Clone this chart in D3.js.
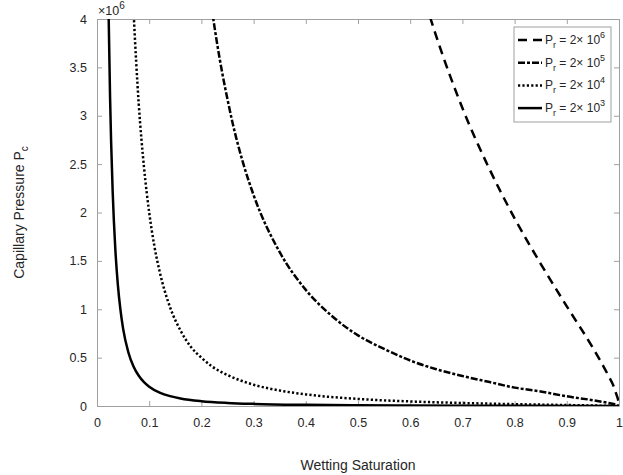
<!DOCTYPE html>
<html>
<head>
<meta charset="utf-8">
<script src="https://d3js.org/d3.v7.min.js"></script>
<style>
  body { margin: 0; background: #fff; }
  text { font-family: "Liberation Sans", Arial, sans-serif; fill: #262626; }
</style>
</head>
<body>
<div id="chart"></div>
<script>
// curves, pressure in units of 1e6
var sat2e6 = [0.638, 0.65, 0.7, 0.75, 0.8, 0.85, 0.9, 0.95, 0.98, 0.99, 0.995, 0.999, 1];
var pc2e6 = [4.02, 3.82, 3.08, 2.47, 1.94, 1.47, 1.03, 0.60, 0.31, 0.20, 0.12, 0.04, 0];

var sat2e5 = [0.22, 0.23, 0.24, 0.25, 0.26, 0.28, 0.3, 0.35, 0.4, 0.45, 0.5, 0.55, 0.6, 0.65, 0.7, 0.75, 0.8, 0.85, 0.9, 0.95, 0.98, 0.99, 1];
var pc2e5 = [4.10, 3.75, 3.44, 3.17, 2.92, 2.51, 2.18, 1.59, 1.20, 0.93, 0.73, 0.59, 0.47, 0.38, 0.31, 0.25, 0.19, 0.15, 0.10, 0.06, 0.031, 0.020, 0];

var sat2e4 = [0.07, 0.075, 0.08, 0.09, 0.1, 0.11, 0.12, 0.14, 0.16, 0.18, 0.2, 0.22, 0.25, 0.3, 0.35, 0.4, 0.5, 0.6, 0.7, 0.8, 0.9, 1];
var pc2e4 = [4.08, 3.56, 3.12, 2.47, 2.00, 1.65, 1.39, 1.02, 0.78, 0.61, 0.50, 0.41, 0.32, 0.22, 0.16, 0.12, 0.073, 0.047, 0.031, 0.019, 0.010, 0];

var sat2e3 = [0.022, 0.025, 0.027, 0.03, 0.035, 0.04, 0.045, 0.05, 0.06, 0.07, 0.08, 0.09, 0.1, 0.12, 0.14, 0.16, 0.2, 0.25, 0.3, 0.4, 0.5, 0.6, 0.8, 1];
var pc2e3 = [4.13, 3.20, 2.74, 2.22, 1.63, 1.25, 0.99, 0.80, 0.556, 0.408, 0.312, 0.247, 0.200, 0.139, 0.102, 0.078, 0.050, 0.032, 0.022, 0.012, 0.0073, 0.0047, 0.0019, 0];

var xTicks = [0, 0.1, 0.2, 0.3, 0.4, 0.5, 0.6, 0.7, 0.8, 0.9, 1];
var yTicks = [0, 0.5, 1, 1.5, 2, 2.5, 3, 3.5, 4];
var legendExp = ['6', '5', '4', '3'];

var W = 623, H = 475;
var mLeft = 97, mTop = 19, w = 522, h = 387;

var svg = d3.select('#chart').append('svg')
    .attr('width', W)
    .attr('height', H);

var x = d3.scaleLinear().domain([0, 1]).range([0, w]);
var y = d3.scaleLinear().domain([0, 4]).range([h, 0]);

var g = svg.append('g').attr('transform', 'translate(' + mLeft + ',' + mTop + ')');

g.append('clipPath').attr('id', 'clip')
    .append('rect').attr('width', w).attr('height', h);

var series = [
    { s: sat2e6, p: pc2e6, dash: '9,6' },
    { s: sat2e5, p: pc2e5, dash: '7,2,3,2' },
    { s: sat2e4, p: pc2e4, dash: '2.2,2.2' },
    { s: sat2e3, p: pc2e3, dash: null }
];

var line = d3.line()
    .x(function (d) { return x(d[0]); })
    .y(function (d) { return y(d[1]); })
    .curve(d3.curveMonotoneX);

var fmt = function (d) { return String(+d.toFixed(1)); };

// axes, ticks pointing inward, mirrored on top/right
function styleAxis(sel) {
    sel.selectAll('path, line').attr('stroke', '#a0a0a0');
    sel.selectAll('text').attr('font-size', '12.5px').attr('fill', '#262626')
        .attr('font-family', '"Liberation Sans", Arial, sans-serif');
}

g.append('g').attr('transform', 'translate(0,' + h + ')')
    .call(d3.axisBottom(x).tickValues(xTicks).tickSizeInner(-5).tickSizeOuter(0).tickPadding(12).tickFormat(fmt))
    .call(styleAxis);
g.append('g')
    .call(d3.axisTop(x).tickValues(xTicks).tickSizeInner(-5).tickSizeOuter(0).tickFormat(''))
    .call(styleAxis);
g.append('g')
    .call(d3.axisLeft(y).tickValues(yTicks).tickSizeInner(-5).tickSizeOuter(0).tickPadding(10).tickFormat(fmt))
    .call(styleAxis);
g.append('g').attr('transform', 'translate(' + w + ',0)')
    .call(d3.axisRight(y).tickValues(yTicks).tickSizeInner(-5).tickSizeOuter(0).tickFormat(''))
    .call(styleAxis);

g.append('g').attr('clip-path', 'url(#clip)')
    .selectAll('path')
    .data(series)
    .enter()
    .append('path')
    .attr('fill', 'none')
    .attr('stroke', '#000')
    .attr('stroke-width', 2.5)
    .attr('stroke-dasharray', function (d) { return d.dash; })
    .attr('d', function (d) { return line(d.s.map(function (v, i) { return [v, d.p[i]]; })); });

// exponent label
var ex = svg.append('text').attr('x', 98).attr('y', 15).attr('font-size', '12.5px');
ex.append('tspan').text('\u00d710');
ex.append('tspan').attr('dy', -6).attr('font-size', '10px').text('6');

// axis titles
svg.append('text')
    .attr('x', mLeft + w / 2)
    .attr('y', 470)
    .attr('text-anchor', 'middle')
    .attr('font-size', '14px')
    .text('Wetting Saturation');

var yl = svg.append('text')
    .attr('transform', 'translate(24,' + (mTop + h / 2) + ') rotate(-90)')
    .attr('text-anchor', 'middle')
    .attr('font-size', '14px');
yl.append('tspan').text('Capillary Pressure P');
yl.append('tspan').attr('dy', 4).attr('font-size', '10px').text('c');

// legend
var lg = svg.append('g').attr('transform', 'translate(514,27)');
lg.append('rect')
    .attr('width', 97).attr('height', 95)
    .attr('fill', '#fff').attr('stroke', '#a0a0a0').attr('stroke-width', 1);

var items = lg.selectAll('.item')
    .data(series)
    .enter()
    .append('g')
    .attr('class', 'item')
    .attr('transform', function (d, i) { return 'translate(0,' + (13 + i * 22.7) + ')'; });

items.append('line')
    .attr('x1', 4).attr('x2', 28)
    .attr('stroke', '#000').attr('stroke-width', 2.5)
    .attr('stroke-dasharray', function (d) { return d.dash; });

var lt = items.append('text').attr('x', 31).attr('y', 4).attr('font-size', '12px');
lt.append('tspan').text('P');
lt.append('tspan').attr('dy', 4).attr('font-size', '9px').text('r');
lt.append('tspan').attr('dy', -4).text(' = 2\u00d7 10');
lt.append('tspan').attr('dy', -6).attr('font-size', '9px').text(function (d, i) { return legendExp[i]; });
</script>
</body>
</html>
